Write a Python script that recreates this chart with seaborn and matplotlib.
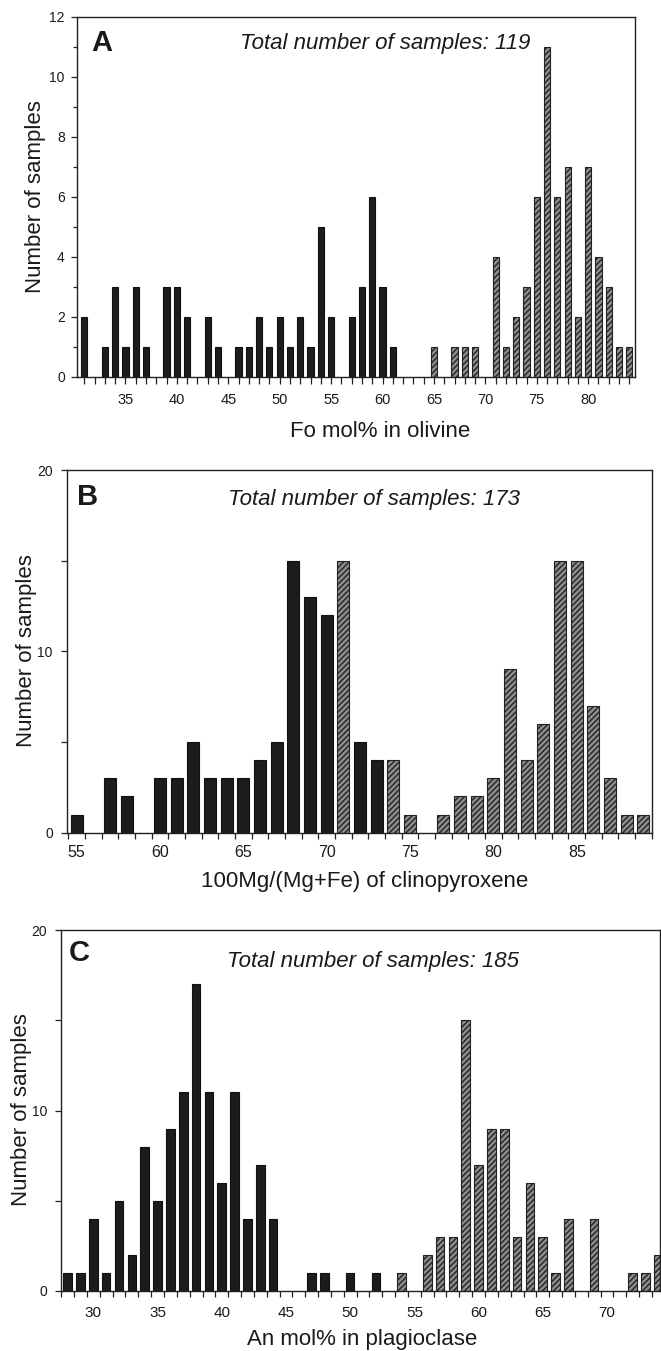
import numpy as np
import matplotlib
matplotlib.use("Agg")
import matplotlib.pyplot as plt
import seaborn as sns

# ---------------- data ----------------
a_bins = [31, 33, 34, 35, 36, 37, 39, 40, 41, 43, 44, 46, 47, 48, 49, 50, 51, 52, 53, 54, 55,
          57, 58, 59, 60, 61, 65, 67, 68, 69, 71, 72, 73, 74, 75, 76, 77, 78, 79, 80, 81, 82, 83, 84]
a_counts = [2, 1, 3, 1, 3, 1, 3, 3, 2, 2, 1, 1, 1, 2, 1, 2, 1, 2, 1, 5, 2,
            2, 3, 6, 3, 1, 1, 1, 1, 1, 4, 1, 2, 3, 6, 11, 6, 7, 2, 7, 4, 3, 1, 1]
a_hatched_bins = [65, 67, 68, 69, 71, 72, 73, 74, 75, 76, 77, 78, 79, 80, 81, 82, 83, 84]
a_xticks = [35, 40, 45, 50, 55, 60, 65, 70, 75, 80]
a_yticks = [0, 2, 4, 6, 8, 10, 12]

b_bins = [55, 57, 58, 60, 61, 62, 63, 64, 65, 66, 67, 68, 69, 70, 71, 72, 73, 74, 75,
          77, 78, 79, 80, 81, 82, 83, 84, 85, 86, 87, 88, 89]
b_counts = [1, 3, 2, 3, 3, 5, 3, 3, 3, 4, 5, 15, 13, 12, 15, 5, 4, 4, 1,
            1, 2, 2, 3, 9, 4, 6, 15, 15, 7, 3, 1, 1]
b_hatched_bins = [71, 74, 75, 77, 78, 79, 80, 81, 82, 83, 84, 85, 86, 87, 88, 89]
b_xticks = [55, 60, 65, 70, 75, 80, 85]
b_yticks = [0, 10, 20]

c_bins = [28, 29, 30, 31, 32, 33, 34, 35, 36, 37, 38, 39, 40, 41, 42, 43, 44, 47, 48, 50, 52, 54,
          56, 57, 58, 59, 60, 61, 62, 63, 64, 65, 66, 67, 69, 72, 73, 74]
c_counts = [1, 1, 4, 1, 5, 2, 8, 5, 9, 11, 17, 11, 6, 11, 4, 7, 4, 1, 1, 1, 1, 1,
            2, 3, 3, 15, 7, 9, 9, 3, 6, 3, 1, 4, 4, 1, 1, 2]
c_hatched_bins = [54, 56, 57, 58, 59, 60, 61, 62, 63, 64, 65, 66, 67, 69, 72, 73, 74]
c_xticks = [30, 35, 40, 45, 50, 55, 60, 65, 70]
c_yticks = [0, 10, 20]

# ---------------- style ----------------
sns.set_theme(style="ticks")
plt.rcParams["font.family"] = ["Liberation Sans", "DejaVu Sans"]
plt.rcParams["hatch.linewidth"] = 1.0

W, H = 661, 1351
DARK = "#1c1c1c"
TXT = "#1a1a1a"
fig = plt.figure(figsize=(W / 100, H / 100), dpi=100)
fig.patch.set_facecolor("white")


def px_axes(l, r, t, b):
    return fig.add_axes([l / W, 1 - b / H, (r - l) / W, (b - t) / H])


def draw(ax, bins, counts, hatched_bins, width):
    sns.barplot(x=bins, y=counts, native_scale=True, color=DARK, saturation=1,
                width=width, errorbar=None, edgecolor="#111111", linewidth=0.8, ax=ax)
    for p, b in zip(ax.patches, bins):
        if b in hatched_bins:
            p.set_hatch("//////")
            p.set_facecolor("#8c8c8c")
            p.set_edgecolor("#222222")
    ax.set_xlabel("")
    ax.set_ylabel("")
    for s in ax.spines.values():
        s.set_visible(True)
        s.set_color("#222222")
        s.set_linewidth(1.0)
    ax.tick_params(axis="both", which="both", direction="out", colors="#222222",
                   labelcolor=TXT, width=0.9)


def ftext(x, y, s, **kw):
    fig.text(x / W, 1 - y / H, s, color=TXT, **kw)


# ---------------- panel A ----------------
axA = px_axes(77.3, 635, 16.7, 376.7)
draw(axA, a_bins, a_counts, a_hatched_bins, 0.6)
axA.set_xlim(30.32, 84.55)
axA.set_ylim(0, 12)
axA.set_xticks(a_xticks)
axA.set_xticks(np.arange(31, 85), minor=True)
axA.set_yticks(a_yticks)
axA.set_yticks(np.arange(0, 13), minor=True)
axA.tick_params(axis="x", which="both", length=5, labelsize=10.5, pad=7)
axA.tick_params(axis="y", which="major", length=4, labelsize=10, pad=5)
axA.tick_params(axis="y", which="minor", length=3)
ftext(102, 43, "A", fontsize=21, fontweight="bold", ha="center", va="center")
ftext(240, 44, "Total number of samples: 119", fontsize=16, fontstyle="italic",
      ha="left", va="center")
ftext(36, 196.7, "Number of samples", fontsize=16, rotation=90, ha="center", va="center")
ftext(380, 437, "Fo mol% in olivine", fontsize=16, ha="center", va="baseline")

# ---------------- panel B ----------------
axB = px_axes(66.7, 651.7, 470, 832.7)
draw(axB, b_bins, b_counts, b_hatched_bins, 0.72)
axB.set_xlim(54.4, 89.5)
axB.set_ylim(0, 20)
axB.set_xticks(b_xticks)
axB.set_xticks(np.arange(54.5, 89.6, 1), minor=True)
axB.set_yticks(b_yticks)
axB.set_yticks([5, 15], minor=True)
axB.tick_params(axis="x", which="major", length=0, labelsize=11.5, pad=9)
axB.tick_params(axis="x", which="minor", length=4)
axB.tick_params(axis="y", which="both", length=4, labelsize=10, pad=6)
ftext(88, 497, "B", fontsize=21, fontweight="bold", ha="center", va="center")
ftext(228, 500, "Total number of samples: 173", fontsize=16, fontstyle="italic",
      ha="left", va="center")
ftext(27, 651, "Number of samples", fontsize=16, rotation=90, ha="center", va="center")
ftext(365, 887, "100Mg/(Mg+Fe) of clinopyroxene", fontsize=16, ha="center", va="baseline")

# ---------------- panel C ----------------
axC = px_axes(61, 660, 930, 1291)
draw(axC, c_bins, c_counts, c_hatched_bins, 0.67)
axC.set_xlim(27.48, 74.13)
axC.set_ylim(0, 20)
axC.set_xticks(c_xticks)
axC.set_xticks(np.arange(27.5, 74.5, 1), minor=True)
axC.set_yticks(c_yticks)
axC.set_yticks([5, 15], minor=True)
axC.tick_params(axis="x", which="major", length=0, labelsize=11, pad=11)
axC.tick_params(axis="x", which="minor", length=4)
axC.tick_params(axis="y", which="both", length=4, labelsize=10, pad=6)
ftext(79, 953, "C", fontsize=21, fontweight="bold", ha="center", va="center")
ftext(227, 962, "Total number of samples: 185", fontsize=16, fontstyle="italic",
      ha="left", va="center")
ftext(22, 1110, "Number of samples", fontsize=16, rotation=90, ha="center", va="center")
ftext(362, 1345, "An mol% in plagioclase", fontsize=16, ha="center", va="baseline")

fig.savefig("out.png", dpi=100, facecolor="white")
